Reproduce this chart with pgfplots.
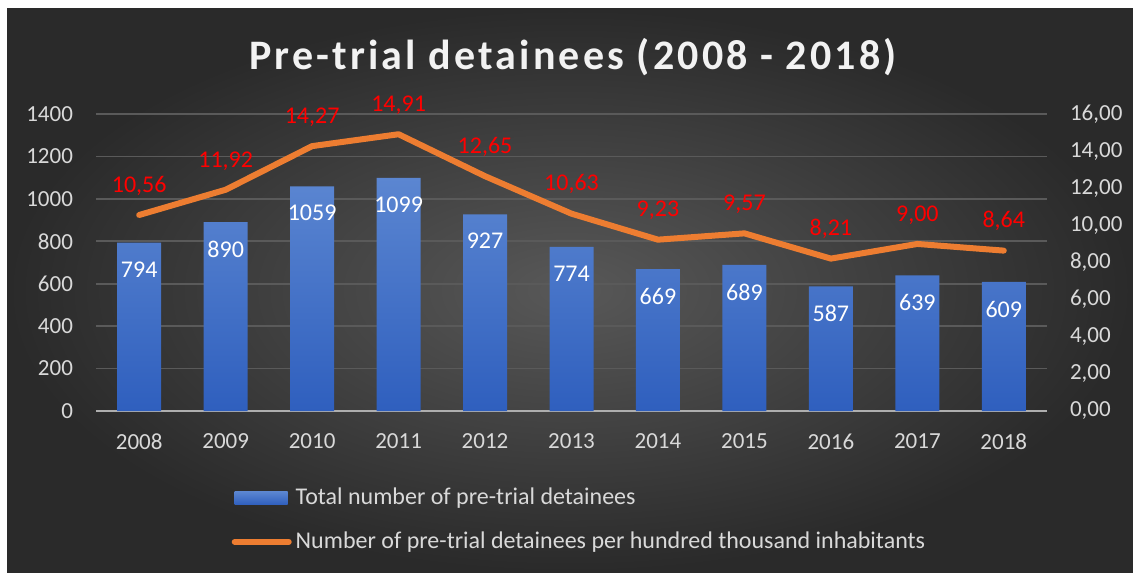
\documentclass[border=0pt]{standalone}
\usepackage{fontspec}
\setmainfont{Carlito}
\newfontfamily\titlefont[LetterSpace=7.5]{Carlito}
\usepackage{pgfplots}
\pgfplotsset{compat=1.18}
\definecolor{bgin}{HTML}{585858}
\definecolor{bgout}{HTML}{2A2A2A}
\definecolor{bartop}{HTML}{5B86D1}
\definecolor{barbot}{HTML}{2F5FBE}
\definecolor{lineor}{HTML}{ED7D31}
\definecolor{lbl}{HTML}{D9D9D9}
\definecolor{gridc}{HTML}{5A5A5A}
\def\u{0.5pt}
\begin{document}
\begin{tikzpicture}
  \fill[white] (0,0) rectangle (1133*\u,-572*\u);
  \shade[inner color=bgin, outer color=bgout] (7*\u,-9*\u) rectangle (1133*\u,-572*\u);
  \node[text=white!95!black, font=\titlefont\bfseries\fontsize{21}{25}\selectfont]
    at (573*\u,-57*\u) {Pre-trial detainees (2008 - 2018)};

  % bars, left axis
  \begin{axis}[
    at={(96*\u,-411*\u)}, anchor=south west,
    scale only axis, width=951*\u, height=297*\u,
    xmin=-0.5, xmax=10.5, ymin=0, ymax=1400,
    xtick={0,...,10},
    xticklabels={2008,2009,2010,2011,2012,2013,2014,2015,2016,2017,2018},
    ytick={0,200,...,1400},
    axis y line*=left, axis x line*=bottom,
    y axis line style={draw=none},
    x axis line style={draw=lbl!80!black, line width=1pt, -},
    major tick length=0pt,
    ymajorgrids, grid style={gridc, line width=0.8pt},
    ticklabel style={text=lbl, font=\fontsize{11.5}{13}\selectfont},
    yticklabel style={xshift=-8pt},
    xticklabel style={yshift=-8pt},
    /pgf/number format/.cd, 1000 sep={}, assume math mode=true,
  ]
    \addplot[ybar, bar width=44*\u, draw=none, top color=bartop, bottom color=barbot,
      nodes near coords,
      nodes near coords style={text=white, anchor=north, yshift=-6pt,
        font=\fontsize{12}{14}\selectfont}]
      coordinates {
      (0,794) (1,890) (2,1059) (3,1099) (4,927) (5,774)
      (6,669) (7,689) (8,587) (9,639) (10,609)
    };
  \end{axis}

  % line, right axis
  \begin{axis}[
    at={(96*\u,-411*\u)}, anchor=south west,
    scale only axis, width=951*\u, height=297*\u,
    xmin=-0.5, xmax=10.5, ymin=0, ymax=16,
    ytick={0,2,...,16},
    axis y line*=right, axis x line=none,
    y axis line style={draw=none},
    major tick length=0pt,
    ticklabel style={text=lbl, font=\fontsize{11.5}{13}\selectfont},
    yticklabel style={xshift=8pt},
    legend style={at={(0.136,-0.232)}, anchor=north west, draw=none, fill=none,
      text=lbl, font=\fontsize{12}{14}\selectfont, row sep=8pt,
      /tikz/every even column/.append style={column sep=0pt}},
    legend cell align=left,
    /pgf/number format/.cd, use comma, fixed, fixed zerofill, precision=2,
      assume math mode=true,
  ]
    \addlegendimage{legend image code/.code={
      \shade[draw=none, top color=bartop, bottom color=barbot] (0,-6.5*\u) rectangle (53*\u,6.5*\u);}}
    \addlegendentry{Total number of pre-trial detainees}
    \addplot[lineor, line width=3pt, line join=round, line cap=round, mark=none,
      nodes near coords,
      nodes near coords style={text=red, anchor=south, yshift=5pt,
        font=\fontsize{12}{14}\selectfont},
      legend image code/.code={
        \draw[lineor, line width=3pt, line cap=round] (0,0) -- (54*\u,0);}]
      coordinates {
      (0,10.56) (1,11.92) (2,14.27) (3,14.91) (4,12.65) (5,10.63)
      (6,9.23) (7,9.57) (8,8.21) (9,9.00) (10,8.64)
    };
    \addlegendentry{Number of pre-trial detainees per hundred thousand inhabitants}
  \end{axis}
\end{tikzpicture}
\end{document}
